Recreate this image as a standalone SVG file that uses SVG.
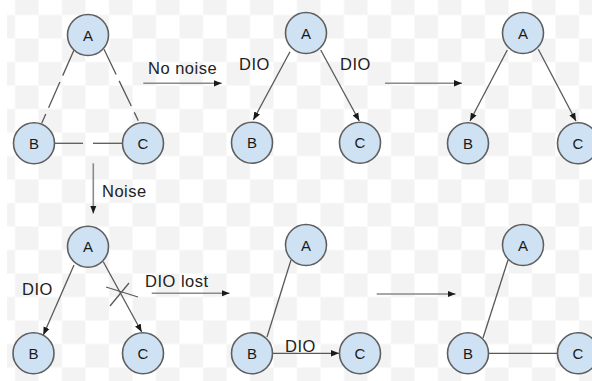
<svg xmlns="http://www.w3.org/2000/svg" width="592" height="381" viewBox="0 0 592 381">
  <defs>
    <pattern id="checker" patternUnits="userSpaceOnUse" x="-8.5" y="-8.5" width="47" height="47">
      <rect x="0" y="0" width="47" height="47" fill="#ffffff"/>
      <rect x="23.5" y="0" width="23.5" height="23.5" fill="#f3f3f3"/>
      <rect x="0" y="23.5" width="23.5" height="23.5" fill="#f3f3f3"/>
    </pattern>
    <marker id="head" viewBox="0 0 10 10" refX="10" refY="5" markerWidth="8" markerHeight="8" markerUnits="userSpaceOnUse" orient="auto">
      <path d="M0,1 L10,5 L0,9 Z" fill="#1a1a1a"/>
    </marker>
  </defs>
  <style>
    .node circle { fill: #cfe2f3; stroke: #5f5f5f; stroke-width: 1.6; }
    .node text { font-family: "Liberation Sans", Arial, sans-serif; font-size: 15px; fill: #1a1a1a; text-anchor: middle; dominant-baseline: central; }
    .edge { stroke: #595959; stroke-width: 1.3; fill: none; }
    .arrow { marker-end: url(#head); }
    .dash { stroke-dasharray: 28 7; }
    .step { stroke: #8a8a8a; stroke-width: 1.6; fill: none; marker-end: url(#head); }
    .label { font-family: "Liberation Sans", Arial, sans-serif; font-size: 16.5px; fill: #222222; letter-spacing: 0.5px; }
  </style>

  <!-- background -->
  <rect x="0" y="0" width="592" height="381" fill="url(#checker)"/>
  <rect x="0" y="0" width="7" height="381" fill="#ffffff"/>

  <g id="connectors">
    <!-- panel 1: links before transmission -->
    <line class="edge dash" x1="74" y1="50" x2="41.7" y2="123.3"/>
    <line class="edge dash" x1="104" y1="49.3" x2="138.3" y2="120.7"/>
    <line class="edge" x1="55" y1="143.3" x2="83" y2="143.3"/>
    <line class="edge" x1="93" y1="143.3" x2="122" y2="143.3"/>
    <!-- panel 2 -->
    <line class="edge arrow" x1="290" y1="51.7" x2="253.3" y2="120"/>
    <line class="edge arrow" x1="320.7" y1="50" x2="359.3" y2="121"/>
    <!-- panel 3 -->
    <line class="edge arrow" x1="507.3" y1="50" x2="470" y2="121"/>
    <line class="edge arrow" x1="538.3" y1="49.3" x2="576" y2="121"/>
    <!-- panel 4 -->
    <line class="edge arrow" x1="74" y1="265" x2="43.3" y2="335"/>
    <line class="edge arrow" x1="103.3" y1="261.7" x2="141.7" y2="332"/>
    <line class="edge" x1="106" y1="287" x2="138" y2="297"/>
    <line class="edge" x1="110" y1="306" x2="129" y2="283"/>
    <!-- panel 5 -->
    <line class="edge" x1="291" y1="260" x2="267" y2="337"/>
    <line class="edge arrow" x1="272" y1="353.3" x2="339" y2="353.3"/>
    <!-- panel 6 -->
    <line class="edge" x1="508" y1="260" x2="483" y2="338"/>
    <line class="edge" x1="489" y1="353.3" x2="557" y2="353.3"/>
    <!-- transitions between panels -->
    <line class="step" x1="143.3" y1="83.3" x2="221.7" y2="83.3"/>
    <line class="step" x1="385" y1="83.3" x2="462" y2="83.3"/>
    <line class="step" x1="93.3" y1="163.3" x2="93.3" y2="213.5"/>
    <line class="step" x1="151.7" y1="293.3" x2="229.5" y2="293.3"/>
    <line class="step" x1="376.7" y1="294" x2="455.5" y2="294"/>
  </g>

  <g id="labels">
    <text class="label" x="148" y="74">No noise</text>
    <text class="label" x="239" y="70">DIO</text>
    <text class="label" x="340" y="70">DIO</text>
    <text class="label" x="102" y="197">Noise</text>
    <text class="label" x="22" y="295">DIO</text>
    <text class="label" x="145" y="287">DIO lost</text>
    <text class="label" x="285" y="352">DIO</text>
  </g>

  <g id="p1-A" class="node"><circle cx="88" cy="35" r="20.5"/><text x="88" y="35">A</text></g>
  <g id="p1-B" class="node"><circle cx="34" cy="143.3" r="20.5"/><text x="34" y="143.3">B</text></g>
  <g id="p1-C" class="node"><circle cx="143" cy="143.3" r="20.5"/><text x="143" y="143.3">C</text></g>

  <g id="p2-A" class="node"><circle cx="306" cy="33" r="20.5"/><text x="306" y="33">A</text></g>
  <g id="p2-B" class="node"><circle cx="252" cy="142.7" r="20.5"/><text x="252" y="142.7">B</text></g>
  <g id="p2-C" class="node"><circle cx="360" cy="142.7" r="20.5"/><text x="360" y="142.7">C</text></g>

  <g id="p3-A" class="node"><circle cx="523" cy="33" r="20.5"/><text x="523" y="33">A</text></g>
  <g id="p3-B" class="node"><circle cx="468" cy="143.3" r="20.5"/><text x="468" y="143.3">B</text></g>
  <g id="p3-C" class="node"><circle cx="578" cy="143.3" r="20.5"/><text x="578" y="143.3">C</text></g>

  <g id="p4-A" class="node"><circle cx="88" cy="246.7" r="20.5"/><text x="88" y="246.7">A</text></g>
  <g id="p4-B" class="node"><circle cx="33.5" cy="353.3" r="20.5"/><text x="33.5" y="353.3">B</text></g>
  <g id="p4-C" class="node"><circle cx="143" cy="353.3" r="20.5"/><text x="143" y="353.3">C</text></g>

  <g id="p5-A" class="node"><circle cx="306" cy="245" r="20.5"/><text x="306" y="245">A</text></g>
  <g id="p5-B" class="node"><circle cx="252" cy="353.3" r="20.5"/><text x="252" y="353.3">B</text></g>
  <g id="p5-C" class="node"><circle cx="360" cy="353.3" r="20.5"/><text x="360" y="353.3">C</text></g>

  <g id="p6-A" class="node"><circle cx="523" cy="245" r="20.5"/><text x="523" y="245">A</text></g>
  <g id="p6-B" class="node"><circle cx="468" cy="353.3" r="20.5"/><text x="468" y="353.3">B</text></g>
  <g id="p6-C" class="node"><circle cx="578" cy="353.3" r="20.5"/><text x="578" y="353.3">C</text></g>
</svg>
